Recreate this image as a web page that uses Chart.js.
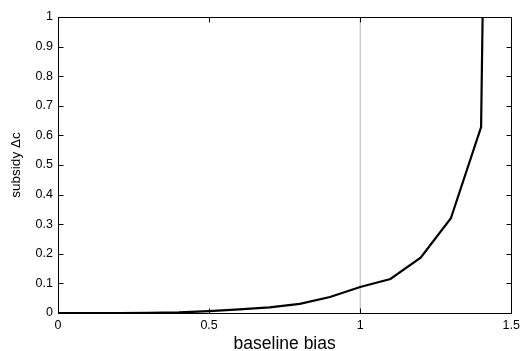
<!DOCTYPE html>
<html>
<head>
<meta charset="utf-8">
<script src="https://cdn.jsdelivr.net/npm/chart.js@4/dist/chart.umd.min.js"></script>
<style>
  html, body { margin:0; padding:0; background:#fff; }
  #wrap { width:525px; height:351px; position:relative; }
</style>
</head>
<body>
<div id="wrap"><canvas id="c"></canvas></div>
<script>
// baseline bias vs subsidy
const biasX    = [0, 0.1, 0.2, 0.3, 0.4, 0.5, 0.6, 0.7, 0.8, 0.9, 1.0, 1.1, 1.2, 1.3, 1.4, 1.405];
const subsidyY = [0, 0, 0, 0.0005, 0.002, 0.006, 0.012, 0.019, 0.031, 0.054, 0.088, 0.115, 0.187, 0.32, 0.628, 1.0];
const refLineX = [1, 1];
const refLineY = [0, 1];
const xTicks = [0, 0.5, 1, 1.5];
const yTicks = [0, 0.1, 0.2, 0.3, 0.4, 0.5, 0.6, 0.7, 0.8, 0.9, 1];

const FONT = '"Liberation Sans", Arial, sans-serif';
const fmt = v => String(+Number(v).toFixed(2));

// matlab style box with inward ticks on all four sides
const boxTicks = {
  id: 'boxTicks',
  afterDraw(chart){
    const {ctx, chartArea:a, scales:{x, y}} = chart;
    const L = Math.round(a.left) + 0.5, R = Math.round(a.right) + 0.5;
    const T = Math.round(a.top) + 0.5, B = Math.round(a.bottom) + 0.5;
    const len = 5;
    ctx.save();
    ctx.strokeStyle = '#000';
    ctx.lineWidth = 1;
    ctx.beginPath();
    xTicks.forEach(v => {
      const px = Math.round(x.getPixelForValue(v)) + 0.5;
      ctx.moveTo(px, B); ctx.lineTo(px, B - len);
      ctx.moveTo(px, T); ctx.lineTo(px, T + len);
    });
    yTicks.forEach(v => {
      const py = Math.round(y.getPixelForValue(v)) + 0.5;
      ctx.moveTo(L, py); ctx.lineTo(L + len, py);
      ctx.moveTo(R, py); ctx.lineTo(R - len, py);
    });
    ctx.stroke();
    ctx.strokeRect(L, T, R - L, B - T);
    ctx.restore();
  }
};

new Chart(document.getElementById('c'), {
  type: 'scatter',
  data: {
    datasets: [
      {
        data: refLineX.map((v,i)=>({x:v, y:refLineY[i]})),
        showLine: true, borderColor: '#b4b4b4', borderWidth: 1,
        pointRadius: 0, order: 2
      },
      {
        data: biasX.map((v,i)=>({x:v, y:subsidyY[i]})),
        showLine: true, borderColor: '#000', borderWidth: 2.2,
        pointRadius: 0, tension: 0, order: 1
      }
    ]
  },
  options: {
    responsive: true, maintainAspectRatio: false, animation: false,
    layout: { padding: { left: 0, top: 17, right: 10, bottom: 0 } },
    plugins: { legend: { display: false }, tooltip: { enabled: false } },
    scales: {
      x: {
        type: 'linear', min: 0, max: 1.5,
        afterBuildTicks: s => { s.ticks = xTicks.map(v => ({value: v})); },
        afterFit: s => { s.height = 38; },
        grid: { display: false, drawTicks: false },
        border: { display: false },
        ticks: { color: '#000', padding: 5, maxRotation: 0, font: { family: FONT, size: 12.5 }, callback: fmt },
        title: { display: true, text: 'baseline bias', color: '#000', font: { family: FONT, size: 17.5 }, padding: { top: 0, bottom: -3.5 } }
      },
      y: {
        type: 'linear', min: 0, max: 1,
        afterBuildTicks: s => { s.ticks = yTicks.map(v => ({value: v})); },
        afterFit: s => { s.width = 58; },
        grid: { display: false, drawTicks: false },
        border: { display: false },
        ticks: { color: '#000', padding: 5, font: { family: FONT, size: 12.5 }, callback: fmt },
        title: { display: true, text: 'subsidy \u0394c', color: '#000', font: { family: FONT, size: 13.5 }, padding: { top: 8, bottom: 0 } }
      }
    }
  },
  plugins: [boxTicks]
});
</script>
</body>
</html>
